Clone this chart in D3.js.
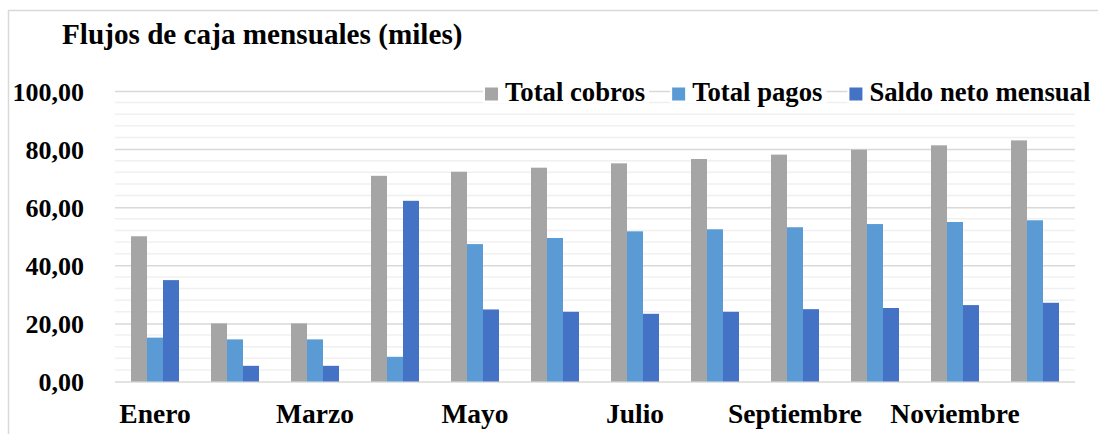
<!DOCTYPE html>
<html>
<head>
<meta charset="utf-8">
<script src="https://cdn.jsdelivr.net/npm/d3@7"></script>
<style>
  body { margin: 0; background: #fff; }
  text { font-family: "Liberation Serif", "Times New Roman", serif; font-weight: bold; fill: #000; }
</style>
</head>
<body>
<svg id="chart"></svg>
<script>
var width = 1098;
var height = 434;

// data (miles)
var meses = ['Enero', 'Febrero', 'Marzo', 'Abril', 'Mayo', 'Junio', 'Julio',
             'Agosto', 'Septiembre', 'Octubre', 'Noviembre', 'Diciembre'];
var series = ['Total cobros', 'Total pagos', 'Saldo neto mensual'];
var cobros = [50.0, 20.0, 20.0, 70.8, 72.2, 73.6, 75.1, 76.6, 78.1, 79.8, 81.3, 83.0];
var pagos  = [15.1, 14.5, 14.5, 8.5, 47.3, 49.4, 51.7, 52.4, 53.1, 54.2, 54.9, 55.5];
var saldo  = [34.9, 5.4, 5.4, 62.2, 24.8, 24.0, 23.3, 24.0, 24.9, 25.3, 26.3, 27.1];
var yTicks = [0, 20, 40, 60, 80, 100];
var colors = ['#A5A5A5', '#5B9BD5', '#4472C4'];

var values = [cobros, pagos, saldo];

var svg = d3.select('#chart')
    .attr('width', width)
    .attr('height', height)

// chart frame (cropped on right / bottom)
svg.append('rect')
    .attr('x', 8.5).attr('y', 10.5)
    .attr('width', width + 10).attr('height', height + 10)
    .attr('fill', '#fff')
    .attr('stroke', '#D9D9D9')
    .attr('stroke-width', 1.5)

var plotLeft = 115, plotRight = 1075, plotTop = 91, plotBottom = 381.5;

var x0 = d3.scaleBand()
    .domain(meses)
    .range([plotLeft, plotRight])
    .paddingInner(0.4)
    .paddingOuter(0.2)

var x1 = d3.scaleBand()
    .domain(series)
    .range([0, x0.bandwidth()])

var y = d3.scaleLinear()
    .domain([0, 100])
    .range([plotBottom, plotTop])

// minor gridlines every 4
var minor = d3.range(4, 100, 4).filter(function(v){ return v % 20 != 0; });
svg.append('g').selectAll('line')
    .data(minor)
    .enter()
    .append('line')
    .attr('x1', plotLeft).attr('x2', plotRight)
    .attr('y1', function(d){ return y(d); })
    .attr('y2', function(d){ return y(d); })
    .attr('stroke', '#F0F0F0')
    .attr('stroke-width', 1.5)

// major gridlines
svg.append('g')
    .attr('transform', 'translate(' + plotLeft + ',0)')
    .call(d3.axisLeft(y).tickValues(yTicks).tickSize(-(plotRight - plotLeft)).tickFormat(''))
    .call(function(g){
        g.select('.domain').remove();
        g.selectAll('line').attr('stroke', '#D9D9D9').attr('stroke-width', 1.5);
    })

// bars
var groups = svg.append('g').selectAll('g')
    .data(meses)
    .enter()
    .append('g')
    .attr('transform', function(d){ return 'translate(' + x0(d) + ',0)'; })

groups.selectAll('rect')
    .data(function(d, i){
        return series.map(function(s, k){ return {serie: s, k: k, v: values[k][i]}; });
    })
    .enter()
    .append('rect')
    .attr('x', function(d){ return x1(d.serie); })
    .attr('y', function(d){ return y(d.v); })
    .attr('width', x1.bandwidth())
    .attr('height', function(d){ return y(0) - y(d.v); })
    .attr('fill', function(d){ return colors[d.k]; })

// y labels
var fmt = function(v){ return d3.format('.2f')(v).replace('.', ','); };
svg.append('g')
    .attr('transform', 'translate(84,0)')
    .call(d3.axisLeft(y).tickValues(yTicks).tickSize(0).tickPadding(0).tickFormat(fmt))
    .call(function(g){
        g.select('.domain').remove();
        g.selectAll('text')
            .attr('font-size', 26)
            .attr('font-family', '"Liberation Serif", serif')
            .attr('fill', '#000')
            .attr('dy', '0.36em');
    })

// x labels (every other month, like the original)
svg.append('g')
    .attr('transform', 'translate(0,' + plotBottom + ')')
    .call(d3.axisBottom(x0).tickSize(0).tickPadding(0)
        .tickFormat(function(d, i){ return i % 2 == 0 ? d : ''; }))
    .call(function(g){
        g.select('.domain').remove();
        g.selectAll('text')
            .attr('font-size', 27.5)
            .attr('font-family', '"Liberation Serif", serif')
            .attr('fill', '#000')
            .attr('dy', null)
            .attr('y', 41.5);
    })

// title
svg.append('text')
    .attr('x', 62)
    .attr('y', 44)
    .attr('font-size', 29.2)
    .text('Flujos de caja mensuales (miles)')

// legend
var legend = svg.append('g')
var lx = 485;
series.forEach(function(s, k){
    var item = legend.append('g').attr('transform', 'translate(' + lx + ',0)');
    item.append('rect')
        .attr('x', -2).attr('y', 83)
        .attr('width', 0).attr('height', 20)
        .attr('fill', '#fff')
    item.append('rect')
        .attr('x', 0).attr('y', 87.5)
        .attr('width', 13).attr('height', 13)
        .attr('fill', colors[k])
    var t = item.append('text')
        .attr('x', 20)
        .attr('y', 101)
        .attr('font-size', 26.7)
        .text(s)
    var w = t.node().getComputedTextLength();
    item.select('rect').attr('width', w + 26);
    lx += 20 + w + 27;
});
</script>
</body>
</html>
